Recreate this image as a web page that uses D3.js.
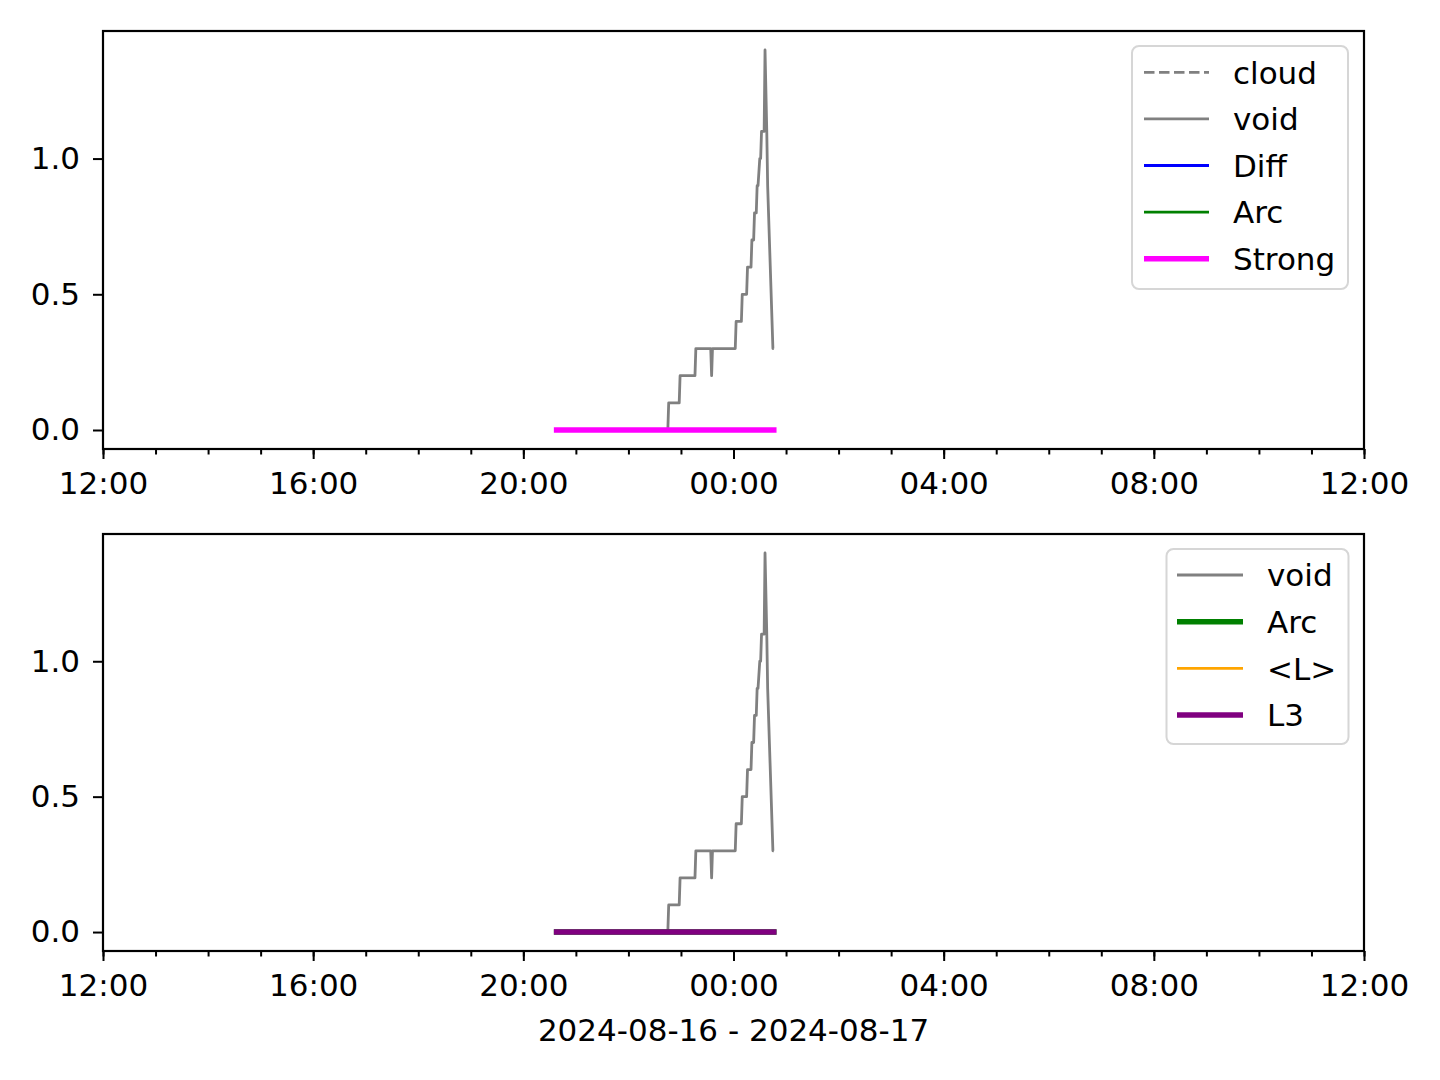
<!DOCTYPE html>
<html>
<head>
<meta charset="utf-8">
<script src="https://cdn.jsdelivr.net/npm/d3@7"></script>
<style>
  html, body { margin: 0; padding: 0; background: #fff; }
  svg { display: block; }
  text { font-family: "DejaVu Sans", sans-serif; fill: #000; }
</style>
</head>
<body>
<svg id="chart" width="1440" height="1080"></svg>
<script>
// ---------------- DATA ----------------
const xDomain = ["2024-08-16T12:00", "2024-08-17T12:00"];
const xLabel = "2024-08-16 - 2024-08-17";
const yTicks = [0.0, 0.5, 1.0];

const voidTimes = [
  "2024-08-16T22:45", "2024-08-16T22:46", "2024-08-16T22:58", "2024-08-16T22:59",
  "2024-08-16T23:16", "2024-08-16T23:17", "2024-08-16T23:34", "2024-08-16T23:35",
  "2024-08-16T23:36", "2024-08-17T00:02", "2024-08-17T00:03", "2024-08-17T00:09",
  "2024-08-17T00:10", "2024-08-17T00:15", "2024-08-17T00:16", "2024-08-17T00:20",
  "2024-08-17T00:21", "2024-08-17T00:23", "2024-08-17T00:24", "2024-08-17T00:26",
  "2024-08-17T00:27", "2024-08-17T00:28", "2024-08-17T00:30", "2024-08-17T00:31",
  "2024-08-17T00:32", "2024-08-17T00:35", "2024-08-17T00:36", "2024-08-17T00:38",
  "2024-08-17T00:39", "2024-08-17T00:45", "2024-08-17T00:46"
];
const voidValues = [
  0.0, 0.1, 0.1, 0.2,
  0.2, 0.3, 0.3, 0.2,
  0.3, 0.3, 0.4, 0.4,
  0.5, 0.5, 0.6, 0.6,
  0.7, 0.7, 0.8, 0.8,
  0.9, 0.9, 1.0, 1.0,
  1.1, 1.1, 1.4, 1.1,
  0.9, 0.3, 0.3
];

const flatTimes = ["2024-08-16T20:38", "2024-08-17T00:46"];
const cloudValues = [];          // no visible data
const diffValues = [0, 0];
const arcValues = [0, 0];
const strongValues = [0, 0];
const lMeanValues = [0, 0];
const l3Values = [0, 0];

const topLegend = ["cloud", "void", "Diff", "Arc", "Strong"];
const bottomLegend = ["void", "Arc", "<L>", "L3"];

// ---------------- SETUP ----------------
const parse = d3.utcParse("%Y-%m-%dT%H:%M");
const svg = d3.select("#chart");
const FONT = 31;

const X0 = 103, X1 = 1364;
const panels = [{ top: 31, bottom: 449 }, { top: 534, bottom: 951 }];

const x = d3.scaleUtc().domain(xDomain.map(parse)).range([X0, X1]);

const styles = {
  cloud:  { color: "#808080", width: 2.8, dash: "10.5,4.5" },
  void:   { color: "#808080", width: 2.8 },
  Diff:   { color: "#0000ff", width: 2.8 },
  ArcTop: { color: "#008000", width: 2.8 },
  Strong: { color: "#ff00ff", width: 5.5, cap: "square" },
  ArcBot: { color: "#008000", width: 5.5, cap: "square" },
  L:      { color: "#ffa500", width: 2.8 },
  L3:     { color: "#800080", width: 5.5, cap: "square" }
};

function zip(times, values) {
  return times.map((t, i) => ({ t: parse(t), v: values[i] })).filter(d => d.v != null && !isNaN(d.v));
}

function drawPanel(p, series, legendItems, legendBox) {
  const y = d3.scaleLinear().domain([-0.07, 1.47]).range([p.bottom, p.top]);
  const g = svg.append("g");

  const clipId = "clip" + p.top;
  svg.append("defs").append("clipPath").attr("id", clipId)
    .append("rect").attr("x", X0).attr("y", p.top).attr("width", X1 - X0).attr("height", p.bottom - p.top);

  const line = d3.line().x(d => x(d.t)).y(d => y(d.v));
  const plot = g.append("g").attr("clip-path", `url(#${clipId})`);
  series.forEach(s => {
    const data = zip(s.times, s.values);
    if (data.length < 2) return;
    plot.append("path").datum(data)
      .attr("d", line)
      .attr("fill", "none")
      .attr("stroke", s.style.color)
      .attr("stroke-width", s.style.width)
      .attr("stroke-linecap", s.style.cap || "butt")
      .attr("stroke-linejoin", "round")
      .attr("stroke-dasharray", s.style.dash || null);
  });

  // minor x ticks
  const minor = g.append("g").attr("transform", `translate(0,${p.bottom})`)
    .call(d3.axisBottom(x).ticks(d3.utcHour.every(1)).tickSize(5.5).tickFormat(""));
  minor.select(".domain").remove();
  minor.selectAll("line").attr("stroke", "#000").attr("stroke-width", 2);

  // major x ticks
  const major = g.append("g").attr("transform", `translate(0,${p.bottom})`)
    .call(d3.axisBottom(x).ticks(d3.utcHour.every(4)).tickSize(10).tickPadding(13)
      .tickFormat(d3.utcFormat("%H:%M")));
  major.select(".domain").remove();
  major.selectAll("line").attr("stroke", "#000").attr("stroke-width", 2);
  major.selectAll("text").attr("font-size", FONT).attr("font-family", "DejaVu Sans").attr("fill", "#000");

  // y axis
  const ya = g.append("g").attr("transform", `translate(${X0},0)`)
    .call(d3.axisLeft(y).tickValues(yTicks).tickSize(10).tickPadding(13).tickFormat(d3.format(".1f")));
  ya.select(".domain").remove();
  ya.selectAll("line").attr("stroke", "#000").attr("stroke-width", 2);
  ya.selectAll("text").attr("font-size", FONT).attr("font-family", "DejaVu Sans").attr("fill", "#000");

  // frame
  g.append("rect").attr("x", X0).attr("y", p.top)
    .attr("width", X1 - X0).attr("height", p.bottom - p.top)
    .attr("fill", "none").attr("stroke", "#000").attr("stroke-width", 2.2);

  // legend
  const lg = g.append("g");
  lg.append("rect").attr("x", legendBox.x).attr("y", legendBox.y)
    .attr("width", legendBox.w).attr("height", legendBox.h)
    .attr("rx", 7).attr("ry", 7)
    .attr("fill", "#fff").attr("fill-opacity", 0.8)
    .attr("stroke", "#d6d6d6").attr("stroke-width", 2);
  legendItems.forEach((it, i) => {
    const cy = legendBox.row0 + i * legendBox.step;
    lg.append("line")
      .attr("x1", legendBox.hx0).attr("x2", legendBox.hx1)
      .attr("y1", cy).attr("y2", cy)
      .attr("stroke", it.style.color)
      .attr("stroke-width", it.style.width)
      .attr("stroke-dasharray", it.style.dash || null);
    lg.append("text").attr("x", legendBox.tx).attr("y", cy + 11.2)
      .attr("font-size", FONT).text(it.label);
  });
}

drawPanel(panels[0], [
  { times: flatTimes, values: cloudValues, style: styles.cloud },
  { times: voidTimes, values: voidValues, style: styles.void },
  { times: flatTimes, values: diffValues, style: styles.Diff },
  { times: flatTimes, values: arcValues, style: styles.ArcTop },
  { times: flatTimes, values: strongValues, style: styles.Strong }
], [
  { label: topLegend[0], style: styles.cloud },
  { label: topLegend[1], style: styles.void },
  { label: topLegend[2], style: styles.Diff },
  { label: topLegend[3], style: styles.ArcTop },
  { label: topLegend[4], style: styles.Strong }
], { x: 1132, y: 46, w: 216, h: 243, row0: 72.3, step: 46.6, hx0: 1144, hx1: 1209, tx: 1233 });

drawPanel(panels[1], [
  { times: voidTimes, values: voidValues, style: styles.void },
  { times: flatTimes, values: arcValues, style: styles.ArcBot },
  { times: flatTimes, values: lMeanValues, style: styles.L },
  { times: flatTimes, values: l3Values, style: styles.L3 }
], [
  { label: bottomLegend[0], style: styles.void },
  { label: bottomLegend[1], style: styles.ArcBot },
  { label: bottomLegend[2], style: styles.L },
  { label: bottomLegend[3], style: styles.L3 }
], { x: 1166.5, y: 549, w: 182, h: 195, row0: 575, step: 46.7, hx0: 1177, hx1: 1243, tx: 1267 });

svg.append("text").attr("x", (X0 + X1) / 2).attr("y", 1041)
  .attr("text-anchor", "middle").attr("font-size", FONT).text(xLabel);
</script>
</body>
</html>
